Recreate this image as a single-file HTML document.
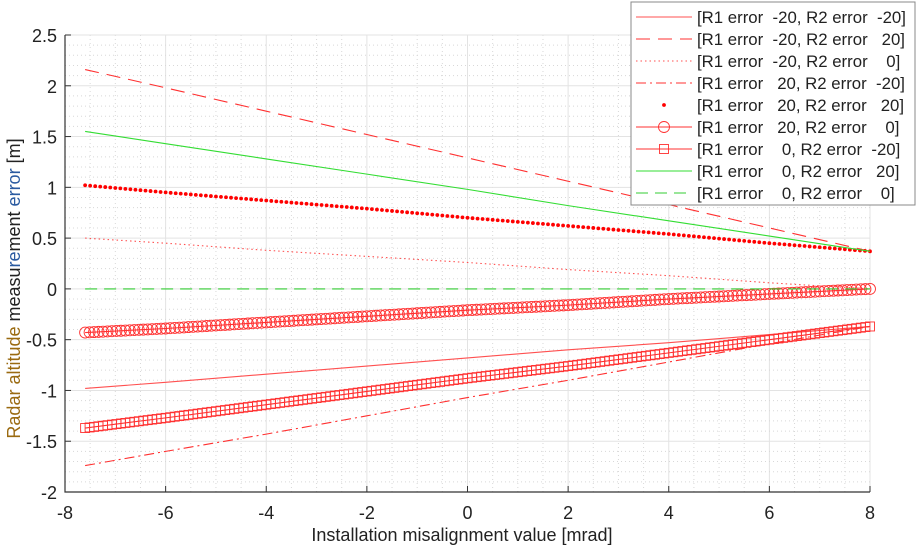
<!DOCTYPE html>
<html><head><meta charset="utf-8"><style>
body{margin:0;background:#fff;}
svg text{font-family:"Liberation Sans",sans-serif;}
</style></head><body>
<svg id="c" width="918" height="548" xmlns="http://www.w3.org/2000/svg"></svg>
<script>
const xs = [-7.6,-6,-4,-2,0,2,4,6,8];
const s1 = [-0.98,-0.92,-0.84,-0.76,-0.68,-0.60,-0.53,-0.45,-0.37];
const s2 = [2.16,1.98,1.75,1.52,1.29,1.06,0.83,0.60,0.37];
const s3 = [0.50,0.45,0.38,0.32,0.26,0.19,0.13,0.06,0.00];
const s4 = [-1.74,-1.60,-1.43,-1.25,-1.07,-0.90,-0.72,-0.54,-0.37];
const s5 = [1.02,0.95,0.87,0.79,0.70,0.62,0.54,0.45,0.37];
const s6 = [-0.43,-0.39,-0.33,-0.27,-0.21,-0.16,-0.10,-0.05,0.00];
const s7 = [-1.37,-1.27,-1.14,-1.01,-0.88,-0.76,-0.63,-0.50,-0.37];
const s8 = [1.55,1.43,1.28,1.13,0.98,0.82,0.67,0.52,0.37];
const s9 = [0,0,0,0,0,0,0,0,0];
const xTicks = [-8,-6,-4,-2,0,2,4,6,8];
const yTicks = [-2,-1.5,-1,-0.5,0,0.5,1,1.5,2,2.5];
const legendLabels = ["[R1 error  -20, R2 error  -20]","[R1 error  -20, R2 error   20]","[R1 error  -20, R2 error    0]","[R1 error   20, R2 error  -20]","[R1 error   20, R2 error   20]","[R1 error   20, R2 error    0]","[R1 error    0, R2 error  -20]","[R1 error    0, R2 error   20]","[R1 error    0, R2 error    0]"];

const L=65,R=870,T=35,B=492, X0=-8,X1=8,Y0=-2,Y1=2.5;
const sx=v=>L+(v-X0)/(X1-X0)*(R-L);
const sy=v=>B-(v-Y0)/(Y1-Y0)*(B-T);
const svg=document.getElementById('c');
const NS="http://www.w3.org/2000/svg";
function mk(t,a,p){const e=document.createElementNS(NS,t);for(const k in a)e.setAttribute(k,a[k]);(p||svg).appendChild(e);return e;}

const grid=mk('g',{});


for(let v=-8;v<=8.001;v+=0.5){const maj=Math.abs(v/2-Math.round(v/2))<1e-6;
 mk('line',{x1:sx(v),x2:sx(v),y1:T,y2:B,stroke:maj?'#e3e3e3':'#d8d8d8','stroke-dasharray':maj?'':'1,3','stroke-width':1},grid);}
for(let v=-2;v<=2.501;v+=0.1){const maj=Math.abs(v*2-Math.round(v*2))<1e-6;
 mk('line',{x1:L,x2:R,y1:sy(v),y2:sy(v),stroke:maj?'#e3e3e3':'#d8d8d8','stroke-dasharray':maj?'':'1,3','stroke-width':1},grid);}
const ax=mk('path',{d:`M${L},${T}V${B}H${R}`,fill:'none',stroke:'#333','stroke-width':1.2});


xTicks.forEach(v=>{mk('line',{x1:sx(v),x2:sx(v),y1:B,y2:B-6,stroke:'#333'});
 const t=mk('text',{x:sx(v),y:B+27,'text-anchor':'middle','font-size':18,fill:'#222'});t.textContent=v;
 });
yTicks.forEach(v=>{mk('line',{x1:L,x2:L+6,y1:sy(v),y2:sy(v),stroke:'#333'});
 const t=mk('text',{x:L-8,y:sy(v)+7,'text-anchor':'end','font-size':18,fill:'#222'});t.textContent=v;
 });
const xt=mk('text',{x:462,y:541,'text-anchor':'middle','font-size':18,fill:'#222'});
xt.textContent='Installation misalignment value [mrad]';

const yt=mk('text',{x:0,y:0,'text-anchor':'middle','font-size':18,fill:'#222',transform:`translate(20,${(T+B)/2+25}) rotate(-90)`});
yt.innerHTML='<tspan fill="#9a6a10">Radar altitude</tspan> measu<tspan fill="#2a5aa0">re</tspan>ment <tspan fill="#2a5aa0">error</tspan> [m]';


const series=[
 {d:s1,c:'#ff5050',dash:'',m:null,n:'series-r1m20-r2m20'},
 {d:s2,c:'#ff3030',dash:'14,8',m:null,n:'series-r1m20-r2p20'},
 {d:s3,c:'#ff5050',dash:'1.5,3',m:null,n:'series-r1m20-r2-0'},
 {d:s4,c:'#ff3030',dash:'10,4,2,4',m:null,n:'series-r1p20-r2m20'},
 {d:s5,c:'#ff0000',dash:'',m:'dot',n:'series-r1p20-r2p20',noline:true},
 {d:s6,c:'#ff3030',dash:'',m:'circle',n:'series-r1p20-r2-0'},
 {d:s7,c:'#ff3030',dash:'',m:'square',n:'series-r1-0-r2m20'},
 {d:s8,c:'#33dd33',dash:'',m:null,n:'series-r1-0-r2p20'},
 {d:s9,c:'#33cc33',dash:'12,7',m:null,n:'series-r1-0-r2-0'}];
function marker(type,x,y,c,p){
 if(type==='dot')return mk('circle',{cx:x,cy:y,r:1.9,fill:c},p);
 if(type==='circle')return mk('circle',{cx:x,cy:y,r:5.5,fill:'none',stroke:c,'stroke-width':0.9},p);
 if(type==='square')return mk('rect',{x:x-4.5,y:y-4.5,width:9,height:9,fill:'none',stroke:c,'stroke-width':0.9},p);
}
series.forEach(s=>{
 const g=mk('g',{});
 
 
 const pts=xs.map((x,i)=>[sx(x),sy(s.d[i])]);
 if(!s.noline){const pl=mk('polyline',{points:pts.map(p=>p.join(',')).join(' '),fill:'none',stroke:s.c,'stroke-width':1.1,'stroke-dasharray':s.dash},g);
  }
 if(s.m){const step=s.m==='dot'?5.1:4.6;
  for(let i=0;i<pts.length-1;i++){const [ax1,ay1]=pts[i],[bx,by]=pts[i+1];
   const len=Math.hypot(bx-ax1,by-ay1),n=Math.max(1,Math.round(len/step));
   for(let k=0;k<n;k++){const t=k/n;marker(s.m,ax1+(bx-ax1)*t,ay1+(by-ay1)*t,s.c,g);}}
  const lp=pts[pts.length-1];marker(s.m,lp[0],lp[1],s.c,g);}
});

const lg=mk('g',{});


mk('rect',{x:631,y:2,width:284,height:203,fill:'#fff',stroke:'#888','stroke-width':1},lg);
series.forEach((s,i)=>{const y=17+i*22;
 const e=mk('g',{},lg);
 
 
 if(!s.noline)mk('line',{x1:636,x2:692,y1:y,y2:y,stroke:s.c,'stroke-width':1.1,'stroke-dasharray':s.dash},e);
 if(s.m)marker(s.m,664,y,s.c,e);
 const t=mk('text',{x:697,y:y+6,'font-size':16.8,fill:'#222','xml:space':'preserve'},e);
 t.setAttribute('style','white-space:pre');
 t.textContent=legendLabels[i];});
</script>
</body></html>
